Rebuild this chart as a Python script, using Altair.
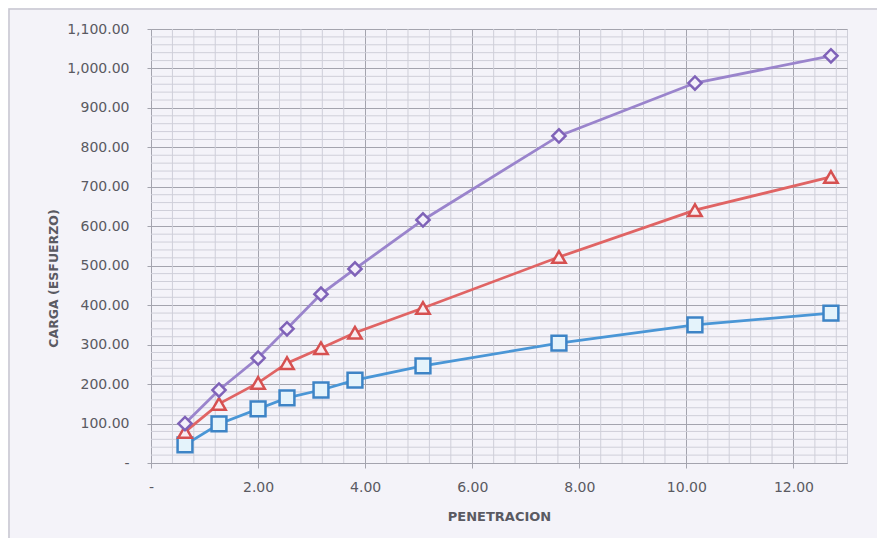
import altair as alt
import pandas as pd

# ---- data ----
penetracion = [0.635, 1.27, 2.00, 2.54, 3.175, 3.81, 5.08, 7.62, 10.16, 12.70]
carga_morado = [100, 185, 266, 340, 428, 492, 616, 829, 963, 1032]
carga_rojo = [79, 150, 203, 253, 291, 330, 393, 522, 641, 725]
carga_azul = [46, 99, 137, 165, 185, 210, 246, 304, 350, 380]

x_major = [0, 2, 4, 6, 8, 10, 12]
y_major = [0, 100, 200, 300, 400, 500, 600, 700, 800, 900, 1000, 1100]
x_minor = [0.4, 0.8, 1.2, 1.6, 2.4, 2.8, 3.2, 3.6, 4.4, 4.8, 5.2, 5.6, 6.4, 6.8,
           7.2, 7.6, 8.4, 8.8, 9.2, 9.6, 10.4, 10.8, 11.2, 11.6, 12.4, 12.8]
y_minor = [v for v in range(20, 1100, 20) if v % 100 != 0]

BG = "#f4f3f9"
MAJ = "#a4a4ae"
MIN = "#cfcfd9"
TXT = "#5a5a62"
FONT = "DejaVu Sans"

W, H = 696, 434
xs = alt.Scale(domain=[0, 13], nice=False, zero=False)
ys = alt.Scale(domain=[0, 1100], nice=False)

x_axis = alt.Axis(
    values=x_major, grid=True, gridColor=MAJ, gridWidth=1,
    tickSize=5, tickColor=MAJ, domainColor=MAJ,
    labelExpr="datum.value == 0 ? '-\u00a0\u00a0' : format(datum.value, ',.2f')",
    labelFont=FONT, labelFontSize=14, labelColor=TXT, labelBaseline="middle",
    labelPadding=19, labelFlush=False, labelOverlap=False,
    title="PENETRACION", titleFont=FONT, titleFontSize=13, titleFontWeight="bold",
    titleColor=TXT, titleY=53, titleBaseline="middle",
)
y_axis = alt.Axis(
    values=y_major, grid=True, gridColor=MAJ, gridWidth=1,
    tickSize=4, tickColor=MAJ, domainColor=MAJ,
    labelExpr="datum.value == 0 ? '-\u00a0\u00a0\u00a0\u00a0' : format(datum.value, ',.2f')",
    labelFont=FONT, labelFontSize=14, labelColor=TXT, labelPadding=18,
    labelFlush=False, labelOverlap=False,
    title="CARGA (ESFUERZO)", titleFont=FONT, titleFontSize=12.5, titleFontWeight="bold",
    titleColor=TXT, titleX=-98, titleY=249, titleBaseline="middle",
)

frame = alt.Chart(pd.DataFrame({"k": [0]})).mark_rect(
    fillOpacity=0, stroke="#c6c6d0", strokeWidth=1.5
).encode(x=alt.value(-142), x2=alt.value(760), y=alt.value(-20), y2=alt.value(600))

minor_x = alt.Chart(pd.DataFrame({"v": x_minor})).mark_rule(color=MIN, strokeWidth=1).encode(
    x=alt.X("v:Q", scale=xs, axis=x_axis)
)
minor_y = alt.Chart(pd.DataFrame({"v": y_minor})).mark_rule(color=MIN, strokeWidth=1).encode(
    y=alt.Y("v:Q", scale=ys, axis=y_axis)
)

series = [
    ("azul", carga_azul, "#4a96d6", "#3d84c6", "#e4f3fb", "square", 220),
    ("rojo", carga_rojo, "#e06464", "#d65050", "#f9ecf0", "triangle-up", 180),
    ("morado", carga_morado, "#9a84cc", "#7f62b8", "#f3effa", "diamond", 175),
]

layers = [frame, minor_x, minor_y]
for name, vals, lc, mc, fc, shp, sz in series:
    d = pd.DataFrame({"pen": penetracion, "carga": vals})
    xenc = alt.X("pen:Q", scale=xs, axis=x_axis)
    yenc = alt.Y("carga:Q", scale=ys, axis=y_axis)
    line = alt.Chart(d).mark_line(color=lc, strokeWidth=2.8).encode(x=xenc, y=yenc)
    pts = alt.Chart(d).mark_point(
        shape=shp, size=sz, filled=True, fill=fc, stroke=mc, strokeWidth=2.5, opacity=1
    ).encode(x=xenc, y=yenc)
    layers += [line, pts]

chart = alt.layer(*layers).properties(
    width=W, height=H,
    autosize=alt.AutoSizeParams(type="none"),
    padding={"left": 143, "top": 21, "right": 30, "bottom": 75},
    background=BG,
).configure_view(stroke=MIN, strokeWidth=1, fill=BG)

chart.save("out.html", embed_options={"renderer": "svg", "actions": False})
